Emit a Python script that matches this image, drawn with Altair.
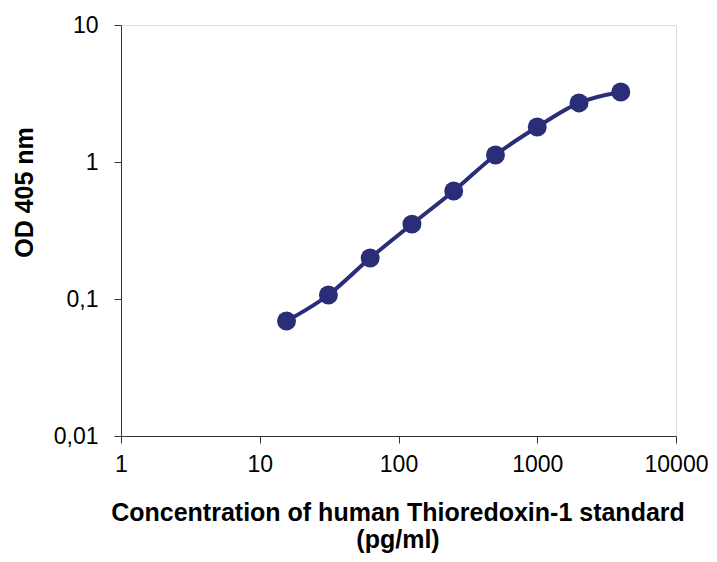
import altair as alt
import pandas as pd

conc = [15.6, 31.25, 62.5, 125, 250, 500, 1000, 2000, 4000]
od = [0.069, 0.107, 0.199, 0.352, 0.614, 1.125, 1.80, 2.70, 3.24]
x_ticks = [1, 10, 100, 1000, 10000]
y_ticks = [0.01, 0.1, 1, 10]

df = pd.DataFrame({"conc": conc, "od": od})
color = "#2a2d78"
font = "Liberation Sans"
W = 555

x = alt.X("conc:Q", scale=alt.Scale(type="log", domain=[1, 10000]),
          axis=alt.Axis(values=x_ticks, format="d", grid=False, labelFlush=False,
                        title=["Concentration of human Thioredoxin-1 standard", "(pg/ml)"],
                        titleFontWeight="bold", titleFontSize=25, titleFont=font,
                        titleColor="black", titleBaseline="alphabetic",
                        titleX=W / 2 - 1, titleY=84, titleLineHeight=27, titleAlign="center",
                        labelFontSize=23, labelFont=font, labelColor="black",
                        labelPadding=10, tickSize=7, domainColor="#333", tickColor="#333"))
y = alt.Y("od:Q", scale=alt.Scale(type="log", domain=[0.01, 10]),
          axis=alt.Axis(values=y_ticks, grid=False, labelFlush=False,
                        labelExpr="replace(format(datum.value, ''), '.', ',')",
                        title="OD 405 nm", titleFontWeight="bold", titleFontSize=25,
                        titleFont=font, titleColor="black", titleBaseline="alphabetic",
                        titleX=-89, titleY=167, titleAngle=-90, titleAlign="center",
                        labelFontSize=23, labelFont=font, labelColor="black",
                        labelPadding=16, tickSize=7, domainColor="#333", tickColor="#333"))

line = alt.Chart(df).mark_line(color=color, strokeWidth=4, interpolate="monotone").encode(x=x, y=y)
pts = alt.Chart(df).mark_circle(color=color, size=360, opacity=1).encode(x=x, y=y)

chart = (line + pts).properties(
    width=W, height=411,
    autosize=alt.AutoSizeParams(type="none"),
    padding={"left": 113, "top": 17, "right": 701 - 113 - W, "bottom": 118},
).configure_view(stroke=None).configure(background="white")

chart.save("out.html", embed_options={"renderer": "svg", "actions": False})
